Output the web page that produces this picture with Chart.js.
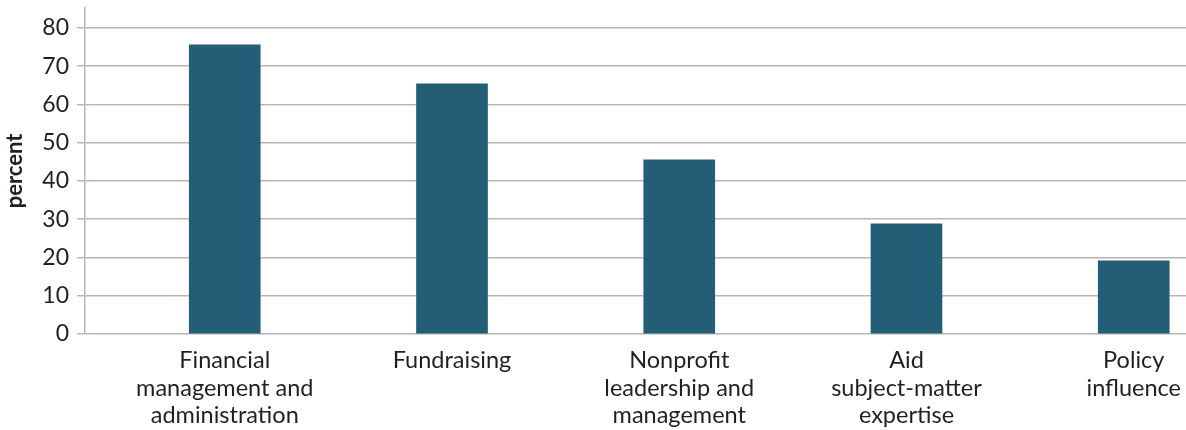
<!DOCTYPE html>
<html>
<head>
  <title>Skills by percent</title>
  <style>
    html, body {
      margin: 0;
      padding: 0;
      background: #fff;
      overflow: hidden;
    }
    #wrap {
      width: 1186px;
      height: 430px;
      position: relative;
    }
  </style>
</head>
<body>
  <div id="wrap"><canvas id="chart"></canvas></div>

  <script src="https://cdn.jsdelivr.net/npm/chart.js"></script>
  <script>
    // data
    const categories = [
      ['Financial', 'management and', 'administration'],
      ['Fundraising'],
      ['Nonprofit', 'leadership and', 'management'],
      ['Aid', 'subject-matter', 'expertise'],
      ['Policy', 'influence']
    ];
    const values = [75.6, 65.4, 45.5, 28.8, 19.1];
    const yTicks = [0, 10, 20, 30, 40, 50, 60, 70, 80];

    const barColor = '#245e76';
    const gridColor = '#bbb6b0';
    const textColor = '#231f20';

    const ctx = document.getElementById('chart').getContext('2d');
    const chart = new Chart(ctx, {
      type: 'bar',
      data: {
        datasets: [{
          label: 'percent',
          data: values.map((v, i) => ({ x: i, y: v })),
          backgroundColor: barColor,
          borderWidth: 0,
          barThickness: 71
        }]
      },
      options: {
        responsive: true,
        maintainAspectRatio: false,
        animation: false,
        layout: { padding: { top: 8, right: 0, bottom: 0, left: 0 } },
        plugins: {
          legend: { display: false },
          tooltip: { enabled: false }
        },
        scales: {
          x: {
            type: 'linear',
            offset: false,
            min: -0.615,
            max: 4.23,
            grid: { display: false, drawTicks: false },
            border: { display: false },
            afterBuildTicks: (axis) => {
              axis.ticks = categories.map((_, i) => ({ value: i }));
            },
            afterFit: (axis) => {
              axis.height = 96;
              axis.paddingLeft = 0;
              axis.paddingRight = 0;
            },
            ticks: {
              autoSkip: false,
              maxRotation: 0,
              padding: 13,
              color: textColor,
              font: { family: 'Lato', size: 23.5, lineHeight: 1.17 },
              callback: (v) => categories[v]
            }
          },
          y: {
            min: 0,
            max: 85.2,
            afterBuildTicks: (axis) => {
              axis.ticks = yTicks.map(v => ({ value: v }));
            },
            afterFit: (axis) => {
              axis.width = 85;
              axis.paddingTop = 0;
              axis.paddingBottom = 0;
            },
            grid: {
              color: gridColor,
              lineWidth: 1.5,
              tickLength: 8
            },
            border: { display: true, color: gridColor, width: 1.5 },
            ticks: {
              padding: 8,
              color: textColor,
              font: { family: 'Lato', size: 23 }
            },
            title: {
              display: true,
              text: 'percent',
              color: textColor,
              font: { family: 'Lato', size: 22, weight: 'bold' },
              padding: { top: 2, bottom: 0 }
            }
          }
        }
      }
    });
  </script>
</body>
</html>
